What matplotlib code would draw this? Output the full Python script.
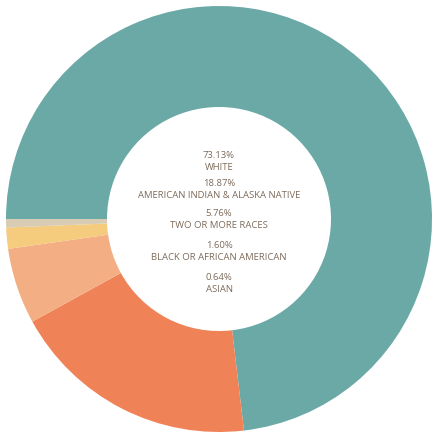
import matplotlib
matplotlib.use("Agg")
import matplotlib.pyplot as plt

categories = ["WHITE", "AMERICAN INDIAN & ALASKA NATIVE", "TWO OR MORE RACES",
              "BLACK OR AFRICAN AMERICAN", "ASIAN"]
values = [73.13, 18.87, 5.76, 1.60, 0.64]
colors = ["#6aa9a6", "#f08258", "#f3ae84", "#f5cb7e", "#d8ccb4"]

W, H = 433, 434
fig = plt.figure(figsize=(W / 100, H / 100), dpi=100)
ax = fig.add_axes([0, 0, 1, 1])
cx, cy, R = 219, H - 219, 213
ax.pie(values, colors=colors, startangle=180, counterclock=False,
       radius=R, center=(cx, cy), wedgeprops=dict(width=R - 112, linewidth=0))
ax.set_xlim(0, W)
ax.set_ylim(0, H)
ax.set_aspect("equal")
ax.axis("off")

tc = "#7d6b5b"
ys = [155, 184, 214, 246, 277]
for y, cat, v in zip(ys, categories, values):
    ax.text(cx, H - y, f"{v:.2f}%", ha="center", va="center", fontsize=6.8,
            color=tc, family="Open Sans")
    ax.text(cx, H - (y + 12), cat, ha="center", va="center", fontsize=6.8,
            color=tc, family="Open Sans")

fig.savefig("out.png", dpi=100)
